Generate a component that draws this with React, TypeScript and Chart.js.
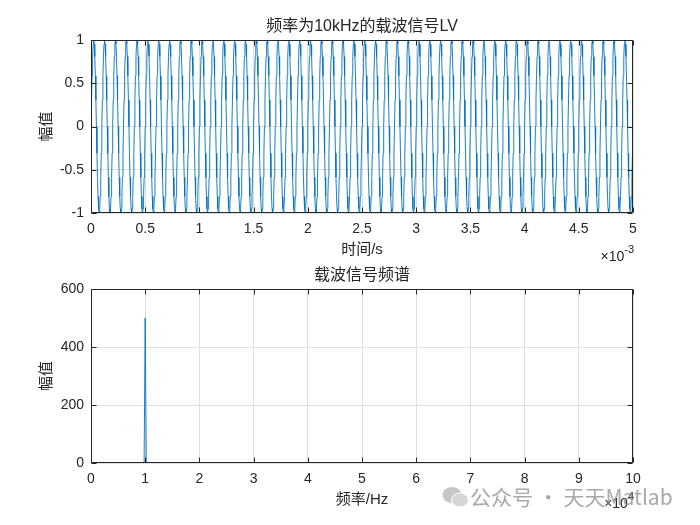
import React, { useEffect, useRef } from "react";
import { Chart, registerables } from "chart.js";

Chart.register(...registerables);

// ---------- data ----------
const sampleRate = 200000; // samples per second (t = index / sampleRate)

// carrier samples (amplitude, 20 samples per 0.1 ms period)
const carrierAmplitude = [
  0,.309,.588,.809,.951,1,.951,.809,.588,.309,0,-.309,-.588,-.809,-.951,-1,-.951,-.809,-.588,-.309,
  0,.309,.588,.809,.951,1,.951,.809,.588,.309,0,-.309,-.588,-.809,-.951,-1,-.951,-.809,-.588,-.309,
  0,.309,.588,.809,.951,1,.951,.809,.588,.309,0,-.309,-.588,-.809,-.951,-1,-.951,-.809,-.588,-.309,
  0,.309,.588,.809,.951,1,.951,.809,.588,.309,0,-.309,-.588,-.809,-.951,-1,-.951,-.809,-.588,-.309,
  0,.309,.588,.809,.951,1,.951,.809,.588,.309,0,-.309,-.588,-.809,-.951,-1,-.951,-.809,-.588,-.309,
  0,.309,.588,.809,.951,1,.951,.809,.588,.309,0,-.309,-.588,-.809,-.951,-1,-.951,-.809,-.588,-.309,
  0,.309,.588,.809,.951,1,.951,.809,.588,.309,0,-.309,-.588,-.809,-.951,-1,-.951,-.809,-.588,-.309,
  0,.309,.588,.809,.951,1,.951,.809,.588,.309,0,-.309,-.588,-.809,-.951,-1,-.951,-.809,-.588,-.309,
  0,.309,.588,.809,.951,1,.951,.809,.588,.309,0,-.309,-.588,-.809,-.951,-1,-.951,-.809,-.588,-.309,
  0,.309,.588,.809,.951,1,.951,.809,.588,.309,0,-.309,-.588,-.809,-.951,-1,-.951,-.809,-.588,-.309,
  0,.309,.588,.809,.951,1,.951,.809,.588,.309,0,-.309,-.588,-.809,-.951,-1,-.951,-.809,-.588,-.309,
  0,.309,.588,.809,.951,1,.951,.809,.588,.309,0,-.309,-.588,-.809,-.951,-1,-.951,-.809,-.588,-.309,
  0,.309,.588,.809,.951,1,.951,.809,.588,.309,0,-.309,-.588,-.809,-.951,-1,-.951,-.809,-.588,-.309,
  0,.309,.588,.809,.951,1,.951,.809,.588,.309,0,-.309,-.588,-.809,-.951,-1,-.951,-.809,-.588,-.309,
  0,.309,.588,.809,.951,1,.951,.809,.588,.309,0,-.309,-.588,-.809,-.951,-1,-.951,-.809,-.588,-.309,
  0,.309,.588,.809,.951,1,.951,.809,.588,.309,0,-.309,-.588,-.809,-.951,-1,-.951,-.809,-.588,-.309,
  0,.309,.588,.809,.951,1,.951,.809,.588,.309,0,-.309,-.588,-.809,-.951,-1,-.951,-.809,-.588,-.309,
  0,.309,.588,.809,.951,1,.951,.809,.588,.309,0,-.309,-.588,-.809,-.951,-1,-.951,-.809,-.588,-.309,
  0,.309,.588,.809,.951,1,.951,.809,.588,.309,0,-.309,-.588,-.809,-.951,-1,-.951,-.809,-.588,-.309,
  0,.309,.588,.809,.951,1,.951,.809,.588,.309,0,-.309,-.588,-.809,-.951,-1,-.951,-.809,-.588,-.309,
  0,.309,.588,.809,.951,1,.951,.809,.588,.309,0,-.309,-.588,-.809,-.951,-1,-.951,-.809,-.588,-.309,
  0,.309,.588,.809,.951,1,.951,.809,.588,.309,0,-.309,-.588,-.809,-.951,-1,-.951,-.809,-.588,-.309,
  0,.309,.588,.809,.951,1,.951,.809,.588,.309,0,-.309,-.588,-.809,-.951,-1,-.951,-.809,-.588,-.309,
  0,.309,.588,.809,.951,1,.951,.809,.588,.309,0,-.309,-.588,-.809,-.951,-1,-.951,-.809,-.588,-.309,
  0,.309,.588,.809,.951,1,.951,.809,.588,.309,0,-.309,-.588,-.809,-.951,-1,-.951,-.809,-.588,-.309,
  0,.309,.588,.809,.951,1,.951,.809,.588,.309,0,-.309,-.588,-.809,-.951,-1,-.951,-.809,-.588,-.309,
  0,.309,.588,.809,.951,1,.951,.809,.588,.309,0,-.309,-.588,-.809,-.951,-1,-.951,-.809,-.588,-.309,
  0,.309,.588,.809,.951,1,.951,.809,.588,.309,0,-.309,-.588,-.809,-.951,-1,-.951,-.809,-.588,-.309,
  0,.309,.588,.809,.951,1,.951,.809,.588,.309,0,-.309,-.588,-.809,-.951,-1,-.951,-.809,-.588,-.309,
  0,.309,.588,.809,.951,1,.951,.809,.588,.309,0,-.309,-.588,-.809,-.951,-1,-.951,-.809,-.588,-.309,
  0,.309,.588,.809,.951,1,.951,.809,.588,.309,0,-.309,-.588,-.809,-.951,-1,-.951,-.809,-.588,-.309,
  0,.309,.588,.809,.951,1,.951,.809,.588,.309,0,-.309,-.588,-.809,-.951,-1,-.951,-.809,-.588,-.309,
  0,.309,.588,.809,.951,1,.951,.809,.588,.309,0,-.309,-.588,-.809,-.951,-1,-.951,-.809,-.588,-.309,
  0,.309,.588,.809,.951,1,.951,.809,.588,.309,0,-.309,-.588,-.809,-.951,-1,-.951,-.809,-.588,-.309,
  0,.309,.588,.809,.951,1,.951,.809,.588,.309,0,-.309,-.588,-.809,-.951,-1,-.951,-.809,-.588,-.309,
  0,.309,.588,.809,.951,1,.951,.809,.588,.309,0,-.309,-.588,-.809,-.951,-1,-.951,-.809,-.588,-.309,
  0,.309,.588,.809,.951,1,.951,.809,.588,.309,0,-.309,-.588,-.809,-.951,-1,-.951,-.809,-.588,-.309,
  0,.309,.588,.809,.951,1,.951,.809,.588,.309,0,-.309,-.588,-.809,-.951,-1,-.951,-.809,-.588,-.309,
  0,.309,.588,.809,.951,1,.951,.809,.588,.309,0,-.309,-.588,-.809,-.951,-1,-.951,-.809,-.588,-.309,
  0,.309,.588,.809,.951,1,.951,.809,.588,.309,0,-.309,-.588,-.809,-.951,-1,-.951,-.809,-.588,-.309,
  0,.309,.588,.809,.951,1,.951,.809,.588,.309,0,-.309,-.588,-.809,-.951,-1,-.951,-.809,-.588,-.309,
  0,.309,.588,.809,.951,1,.951,.809,.588,.309,0,-.309,-.588,-.809,-.951,-1,-.951,-.809,-.588,-.309,
  0,.309,.588,.809,.951,1,.951,.809,.588,.309,0,-.309,-.588,-.809,-.951,-1,-.951,-.809,-.588,-.309,
  0,.309,.588,.809,.951,1,.951,.809,.588,.309,0,-.309,-.588,-.809,-.951,-1,-.951,-.809,-.588,-.309,
  0,.309,.588,.809,.951,1,.951,.809,.588,.309,0,-.309,-.588,-.809,-.951,-1,-.951,-.809,-.588,-.309,
  0,.309,.588,.809,.951,1,.951,.809,.588,.309,0,-.309,-.588,-.809,-.951,-1,-.951,-.809,-.588,-.309,
  0,.309,.588,.809,.951,1,.951,.809,.588,.309,0,-.309,-.588,-.809,-.951,-1,-.951,-.809,-.588,-.309,
  0,.309,.588,.809,.951,1,.951,.809,.588,.309,0,-.309,-.588,-.809,-.951,-1,-.951,-.809,-.588,-.309,
  0,.309,.588,.809,.951,1,.951,.809,.588,.309,0,-.309,-.588,-.809,-.951,-1,-.951,-.809,-.588,-.309,
  0,.309,.588,.809,.951,1,.951,.809,.588,.309,0,-.309,-.588,-.809,-.951,-1,-.951,-.809,-.588,-.309,
];

// spectrum: frequency (Hz) and magnitude
const spectrumFreq = [0, 9800, 10000, 10200, 100000];
const spectrumMag = [0, 0, 500, 0, 0];

// tick values and labels
const timeTickValues = [0, 0.0005, 0.001, 0.0015, 0.002, 0.0025, 0.003, 0.0035, 0.004, 0.0045, 0.005];
const timeTickLabels = ["0", "0.5", "1", "1.5", "2", "2.5", "3", "3.5", "4", "4.5", "5"];
const ampTickValues = [-1, -0.5, 0, 0.5, 1];
const ampTickLabels = ["-1", "-0.5", "0", "0.5", "1"];
const freqTickValues = [0, 10000, 20000, 30000, 40000, 50000, 60000, 70000, 80000, 90000, 100000];
const freqTickLabels = ["0", "1", "2", "3", "4", "5", "6", "7", "8", "9", "10"];
const magTickValues = [0, 200, 400, 600];
const magTickLabels = ["0", "200", "400", "600"];

// ---------- styling ----------
const FONT = "'Liberation Sans', Arial, 'Noto Sans CJK SC', sans-serif";
const AXIS_COLOR = "#262626";
const GRID_COLOR = "#dfdfdf";
const LINE_COLOR = "#0072BD";

const framePlugin = {
  id: "matlabFrame",
  afterDraw(chart: any, _args: any, opts: any) {
    const { ctx, chartArea: a } = chart;
    const xs = chart.scales.x;
    const ys = chart.scales.y;
    ctx.save();
    ctx.strokeStyle = AXIS_COLOR;
    ctx.lineWidth = 1;
    const L = Math.round(a.left) + 0.5;
    const R = Math.round(a.right) - 0.5;
    const T = Math.round(a.top) + 0.5;
    const B = Math.round(a.bottom) - 0.5;
    ctx.beginPath();
    ctx.rect(L, T, R - L, B - T);
    const tl = 5;
    xs.ticks.forEach((t: any) => {
      const px = Math.round(xs.getPixelForValue(t.value)) + 0.5;
      ctx.moveTo(px, B);
      ctx.lineTo(px, B - tl);
      ctx.moveTo(px, T);
      ctx.lineTo(px, T + tl);
    });
    ys.ticks.forEach((t: any) => {
      const py = Math.round(ys.getPixelForValue(t.value)) + 0.5;
      ctx.moveTo(L, py);
      ctx.lineTo(L + tl, py);
      ctx.moveTo(R, py);
      ctx.lineTo(R - tl, py);
    });
    ctx.stroke();

    ctx.fillStyle = AXIS_COLOR;
    ctx.textAlign = "center";
    ctx.textBaseline = "middle";
    const cx = (a.left + a.right) / 2;
    ctx.font = `16px ${FONT}`;
    ctx.fillText(opts.title, cx, a.top - 13);
    ctx.font = `15px ${FONT}`;
    ctx.fillText(opts.xLabel, cx, a.bottom + 37);

    ctx.save();
    ctx.translate(a.left - 44, (a.top + a.bottom) / 2);
    ctx.rotate(-Math.PI / 2);
    ctx.fillText(opts.yLabel, 0, 0);
    ctx.restore();

    // exponent label
    ctx.textAlign = "right";
    ctx.font = `11px ${FONT}`;
    const sup = opts.exponent;
    const w = ctx.measureText(sup).width;
    ctx.fillText(sup, a.right + 1, a.bottom + opts.expOffset - 7);
    ctx.font = `14px ${FONT}`;
    ctx.fillText("\u00d710", a.right + 1 - w, a.bottom + opts.expOffset);
    ctx.restore();
  },
};

function makeScale(values: number[], labels: string[], min: number, max: number, isX: boolean) {
  return {
    type: "linear",
    min,
    max,
    afterBuildTicks: (s: any) => {
      s.ticks = values.map((v) => ({ value: v }));
    },
    afterFit: (s: any) => {
      if (isX) s.height = 30;
      else s.width = 40;
    },
    ticks: {
      callback: (_v: any, i: number) => labels[i],
      font: { family: FONT, size: 14 },
      color: AXIS_COLOR,
      padding: isX ? 8 : 7,
      maxRotation: 0,
      autoSkip: false,
    },
    grid: { color: GRID_COLOR, drawTicks: false, lineWidth: 1 },
    border: { display: false },
  };
}

function makeConfig(
  points: { x: number; y: number }[],
  xScale: any,
  yScale: any,
  frame: any,
  padding: any
): any {
  return {
    type: "line",
    data: {
      datasets: [
        {
          data: points,
          borderColor: LINE_COLOR,
          borderWidth: 0.9,
          pointRadius: 0,
          tension: 0,
          fill: false,
        },
      ],
    },
    options: {
      responsive: false,
      animation: false,
      devicePixelRatio: 1,
      layout: { padding },
      scales: { x: xScale, y: yScale },
      plugins: {
        legend: { display: false },
        tooltip: { enabled: false },
        title: { display: false },
        matlabFrame: frame,
      },
    },
    plugins: [framePlugin],
  };
}

export default function App() {
  const topRef = useRef<HTMLCanvasElement | null>(null);
  const bottomRef = useRef<HTMLCanvasElement | null>(null);

  useEffect(() => {
    const carrierPoints = carrierAmplitude.map((y, i) => ({ x: i / sampleRate, y }));
    const spectrumPoints = spectrumFreq.map((f, i) => ({ x: f, y: spectrumMag[i] }));

    const top = new Chart(
      topRef.current as HTMLCanvasElement,
      makeConfig(
        carrierPoints,
        makeScale(timeTickValues, timeTickLabels, 0, 0.005, true),
        makeScale(ampTickValues, ampTickLabels, -1, 1, false),
        { title: "频率为10kHz的载波信号LV", xLabel: "时间/s", yLabel: "幅值", exponent: "-3", expOffset: 44 },
        { left: 51, right: 67, top: 40, bottom: 19 }
      )
    );
    const bottom = new Chart(
      bottomRef.current as HTMLCanvasElement,
      makeConfig(
        spectrumPoints,
        makeScale(freqTickValues, freqTickLabels, 0, 100000, true),
        makeScale(magTickValues, magTickLabels, 0, 600, false),
        { title: "载波信号频谱", xLabel: "频率/Hz", yLabel: "幅值", exponent: "4", expOffset: 41 },
        { left: 51, right: 67, top: 27, bottom: 32 }
      )
    );
    return () => {
      top.destroy();
      bottom.destroy();
    };
  }, []);

  return (
    <div
      style={{
        position: "fixed",
        left: 0,
        top: 0,
        width: 700,
        height: 525,
        background: "#ffffff",
        overflow: "hidden",
      }}
    >
      <canvas
        ref={topRef}
        width={700}
        height={262}
        style={{ position: "absolute", left: 0, top: 0, width: 700, height: 262 }}
      />
      <canvas
        ref={bottomRef}
        width={700}
        height={263}
        style={{ position: "absolute", left: 0, top: 262, width: 700, height: 263 }}
      />
      <svg
        width={28}
        height={24}
        style={{ position: "absolute", left: 442, top: 485, opacity: 0.55 }}
      >
        <ellipse cx={10} cy={10} rx={9.5} ry={8} fill="#9a9a9a" />
        <ellipse cx={18} cy={15} rx={8.5} ry={7} fill="#b5b5b5" stroke="#ffffff" strokeWidth={1} />
      </svg>
      <div
        style={{
          position: "absolute",
          left: 470,
          top: 482,
          fontFamily: "'Noto Sans CJK SC', sans-serif",
          fontSize: 21,
          color: "rgba(140,140,140,0.75)",
          whiteSpace: "nowrap",
          lineHeight: "28px",
        }}
      >
        公众号 · 天天Matlab
      </div>
    </div>
  );
}
